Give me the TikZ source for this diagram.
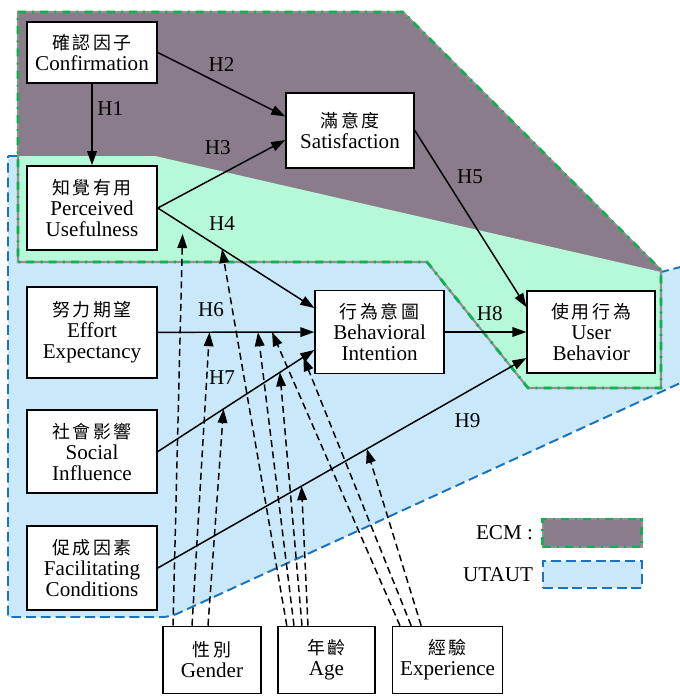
\documentclass[tikz,border=0pt]{standalone}
\usepackage{fontspec}
\setmainfont{Liberation Serif}
\newfontfamily\cjk[Scale=0.85,LetterSpace=15]{Noto Sans CJK TC}
\usetikzlibrary{calc,positioning,arrows.meta}
\definecolor{ecmfill}{HTML}{8A7C8A}
\definecolor{overlap}{HTML}{B6F9D8}
\definecolor{utautfill}{HTML}{C9E9FB}
\definecolor{ecmline}{HTML}{10B050}
\definecolor{ecmgrey}{HTML}{909090}
\definecolor{utautline}{HTML}{1A72C4}

\begin{document}
\begin{tikzpicture}[font=\fontsize{15}{15}\selectfont,
  factor/.style={draw,line width=1.1pt,fill=white,align=center,minimum width=3.25cm,inner sep=2pt},
  hypo/.style={-{Triangle[length=0.35cm,width=0.24cm]},line width=1.05pt},
  moder/.style={hypo,dash pattern=on 5pt off 3pt},
  ecmedge/.style={draw=ecmgrey,line width=1.5pt,postaction={draw=ecmline,line width=2pt,dash pattern=on 5.7pt off 4.3pt on 1.4pt off 4.4pt}},
  utautedge/.style={draw=utautline,line width=1.4pt,dash pattern=on 7pt off 3.5pt}]
\useasboundingbox (0,0) rectangle (17,-17.4);
\def\ecmoutline{(0.45,-0.3) -- (10.075,-0.3) -- (16.525,-6.75) -- (16.525,-9.7) -- (13.2,-9.7) -- (10.675,-6.55) -- (0.45,-6.55) -- cycle}
\def\utautoutline{(0.2,-3.9) -- (3.875,-3.9) -- (16.525,-6.8) -- (17.5,-6.55) -- (17.5,-9.35) [rounded corners=0.2cm]-- (4.25,-15.425) [sharp corners]-- (0.2,-15.425) -- cycle}
\fill[utautfill] \utautoutline;
\draw[utautedge] \utautoutline;
\fill[ecmfill] \ecmoutline;
\begin{scope}
  \clip \utautoutline;
  \fill[overlap] \ecmoutline;
\end{scope}
\path[ecmedge] \ecmoutline;

\node[factor,minimum height=1.525cm] (conf) at (2.3,-1.3125) {{\cjk 確認因子}\\Confirmation};
\node[factor,minimum height=2.1cm] (pu) at (2.3,-5.2) {{\cjk 知覺有用}\\Perceived\\Usefulness};
\node[factor,minimum width=3.2cm,minimum height=1.875cm] (sat) at (8.75,-3.26) {{\cjk 滿意度}\\Satisfaction};
\node[factor,minimum height=2.275cm] (ee) at (2.3,-8.31) {{\cjk 努力期望}\\Effort\\Expectancy};
\node[factor,minimum height=2.075cm] (si) at (2.3,-11.29) {{\cjk 社會影響}\\Social\\Influence};
\node[factor,minimum height=2.1cm] (fc) at (2.3,-14.2) {{\cjk 促成因素}\\Facilitating\\Conditions};
\node[factor,minimum width=3.225cm,minimum height=2.075cm] (bi) at (9.49,-8.3) {{\cjk 行為意圖}\\Behavioral\\Intention};
\node[factor,minimum width=3.2cm,minimum height=2.05cm] (ub) at (14.78,-8.3) {{\cjk 使用行為}\\User\\Behavior};
\node[factor,minimum width=2.45cm,minimum height=1.675cm] (gen) at (5.3,-16.5) {{\cjk 性別}\\Gender};
\node[factor,minimum width=2.425cm,minimum height=1.675cm] (age) at (8.16,-16.5) {{\cjk 年齡}\\Age};
\node[factor,minimum width=2.75cm,minimum height=1.675cm] (exp) at (11.19,-16.5) {{\cjk 經驗}\\Experience};

\draw[hypo] (conf) -- node[pos=0.3,right]{H1} (pu);
\draw[hypo] (conf.east) -- node[pos=0.5,above=0.2cm]{H2} ([yshift=0.35cm]sat.west);
\draw[hypo] (pu.east) -- node[pos=0.47,above=0.4cm]{H3} ([yshift=-0.24cm]sat.west);
\draw[hypo] (pu.east) -- node[pos=0.41,above=0.33cm]{H4} coordinate[pos=0.16] (h4a) coordinate[pos=0.41] (h4b) ([yshift=0.6cm]bi.west);
\draw[hypo] (sat.east) -- node[pos=0.26,right=0.2cm]{H5} ([yshift=0.62cm]ub.west);
\draw[hypo] (ee) -- node[pos=0.34,above=0.25cm]{H6} coordinate[pos=0.33] (h6a) coordinate[pos=0.64] (h6b) coordinate[pos=0.73] (h6c) (bi);
\draw[hypo] (si.east) -- node[pos=0.41,above=0.5cm]{H7} coordinate[pos=0.42] (h7a) coordinate[pos=0.78] (h7b) coordinate[pos=0.93] (h7c) ([yshift=-0.45cm]bi.west);
\draw[hypo] (bi) -- node[pos=0.55,above=0.15cm]{H8} (ub);
\draw[hypo] (fc.east) -- node[pos=0.84,below=0.42cm]{H9} coordinate[pos=0.39] (h9a) coordinate[pos=0.567] (h9b) ([yshift=-0.65cm]ub.west);

\draw[moder,shorten >=0.25cm] ([xshift=-0.975cm]gen.north) -- (h4a);
\draw[moder] ([xshift=-0.5cm]gen.north) -- (h6a);
\draw[moder] ([xshift=-0.1cm]gen.north) -- (h7a);
\draw[moder] ([xshift=-0.99cm]age.north) -- (h4b);
\draw[moder] ([xshift=-0.81cm]age.north) -- (h6b);
\draw[moder] ([xshift=-0.61cm]age.north) -- (h7b);
\draw[moder] ([xshift=-0.46cm]age.north) -- (h9a);
\draw[moder] ([xshift=-1.19cm]exp.north) -- (h6c);
\draw[moder] ([xshift=-0.91cm]exp.north) -- (h7c);
\draw[moder] ([xshift=-0.66cm]exp.north) -- (h9b);

\node[ecmedge,fill=ecmfill,minimum width=2.475cm,minimum height=0.7cm] (ecmbox) at (14.81,-13.325) {};
\node[utautedge,fill=utautfill,minimum width=2.475cm,minimum height=0.675cm] (utautbox) at (14.81,-14.36) {};
\node[left=0.1cm of ecmbox] (ecmkey) {ECM :};
\node[left=0.1cm of utautbox] (utautkey) {UTAUT};
\end{tikzpicture}
\end{document}
